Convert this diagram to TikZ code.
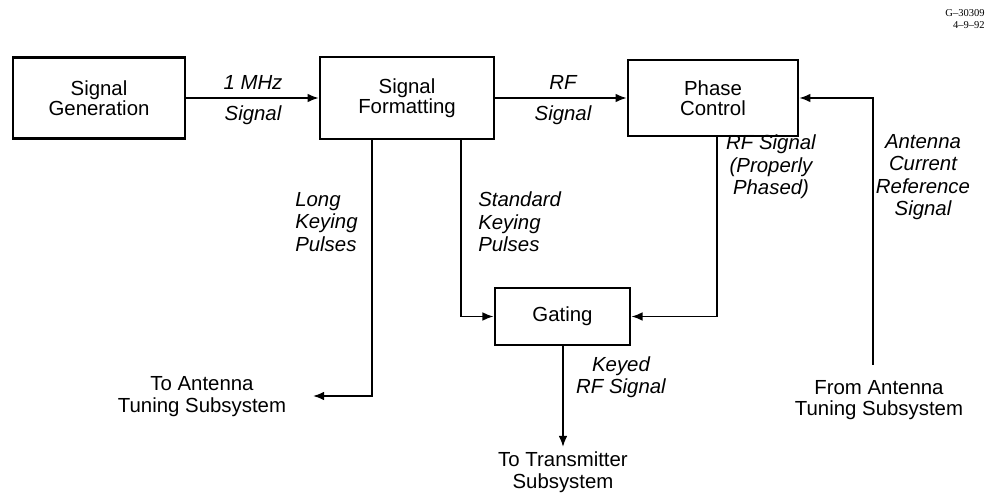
\documentclass[tikz,border=0pt]{standalone}
\usepackage{fontspec}
\setmainfont{Liberation Sans}
\newfontfamily\idfont{Liberation Serif}
\usetikzlibrary{arrows.meta,positioning}

\begin{document}
\begin{tikzpicture}[x=0.025cm,y=-0.025cm,
    blk/.style={rectangle,draw,line width=1.8pt,align=center,inner sep=0pt,font=\fontsize{14.5}{14.5}\selectfont},
    arr/.style={-{Latex[length=2.8mm,width=2.2mm]},line width=1.3pt},
    lbl/.style={inner sep=0pt,font=\fontsize{14.5}{16}\selectfont\itshape},
    txt/.style={inner sep=0pt,align=center,font=\fontsize{14.5}{15.5}\selectfont},
]
\useasboundingbox (0,0) rectangle (988,504);

% Blocks
\node[blk,minimum width=4.3cm,minimum height=2.02cm] (gen) at (99,98) {Signal\\Generation};
\node[blk,minimum width=4.35cm,minimum height=2.05cm] (fmt) at (407,98) {Signal\\Formatting};
\node[blk,minimum width=4.25cm,minimum height=1.9cm] (phase) at (713,98) {Phase\\Control};
\node[blk,minimum width=3.38cm,minimum height=1.42cm] (gate) at (562.5,316.5) {Gating};

% End points
\coordinate (lkx) at (372,396);
\coordinate (toant) at (313,396);
\coordinate (skx) at (461,316);
\coordinate (pcx) at (717,316);
\coordinate (totx) at (563,447);
\coordinate (antin) at (873,365);

% Texts at the ends
\node[txt] (toanttxt) at (202,397) {To Antenna\\Tuning Subsystem};
\node[txt] (totxtxt) at (563,472) {To Transmitter\\Subsystem};
\node[txt] (fromant) at (879,400) {From Antenna\\Tuning Subsystem};
\node[inner sep=0pt,align=right,anchor=north east,font=\idfont\fontsize{7.5}{9}\selectfont] (figid) at (985,9) {G–30309\\4–9–92};

% Arrows
\draw[arr] (gen) -- (fmt);
\draw[arr] (fmt) -- (phase);
\draw[arr] (antin) |- (phase.east);
\draw[arr] (fmt.south -| lkx) -- (lkx) -- (toant);
\draw[arr] (fmt.south -| skx) |- (gate.west);
\draw[arr] (phase.south -| pcx) |- (gate.east);
\draw[arr] (gate.south -| totx) -- (totx);

% Labels
\node[lbl] (mhz) at (253,82) {1 MHz};
\node[lbl] (sig1) at (253,115) {Signal};
\node[lbl] (rf) at (563,82) {RF};
\node[lbl] (sig2) at (563,115) {Signal};
\node[lbl,align=left,anchor=west] (long) at (295,222) {Long\\Keying\\Pulses};
\node[lbl,align=left,anchor=west] (std) at (478,222) {Standard\\Keying\\Pulses};
\node[lbl,align=center] (phased) at (771,167) {RF Signal\\(Properly\\Phased)};
\node[lbl,align=center] (antref) at (923,177) {Antenna\\Current\\Reference\\Signal};
\node[lbl,align=center] (keyed) at (621,377) {Keyed\\RF Signal};
\end{tikzpicture}
\end{document}
